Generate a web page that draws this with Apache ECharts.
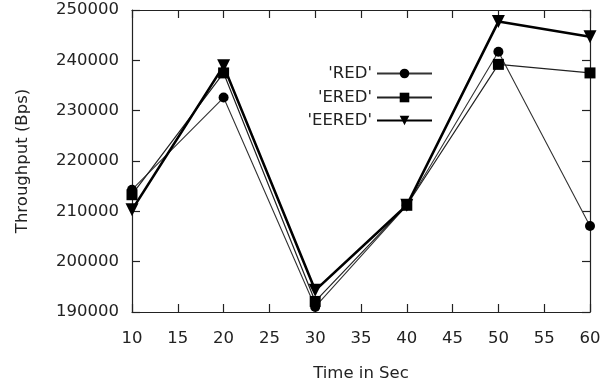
<!DOCTYPE html>
<html>
<head>
<meta charset="utf-8">
<script src="https://cdn.jsdelivr.net/npm/echarts@6/dist/echarts.min.js"></script>
<style>
html,body{margin:0;padding:0;background:#fff;}
#c{width:611px;height:387px;}
</style>
</head>
<body>
<div id="c"></div>
<script>
var times = [10, 20, 30, 40, 50, 60];
var redValues = [214300, 232600, 191000, 211200, 241700, 207100];
var eredValues = [213300, 237500, 192100, 211200, 239200, 237500];
var eeredValues = [210300, 238900, 194300, 211200, 247700, 244700];
var seriesNames = ["'RED'", "'ERED'", "'EERED'"];

function pairs(xs, ys) { return xs.map(function (x, i) { return [x, ys[i]]; }); }

var font = 'DejaVu Sans';
var fs = 16.5;
var txt = '#222';
var chart = echarts.init(document.getElementById('c'), null, {renderer: 'canvas'});

function axisCommon(extra) {
  var o = {
    axisLine: {show: true, onZero: false, lineStyle: {color: '#222', width: 1.2}},
    axisTick: {show: true, inside: true, length: 8, lineStyle: {color: '#222', width: 1.2}},
    splitLine: {show: false}
  };
  for (var k in extra) o[k] = extra[k];
  return o;
}

function legendFor(name, top) {
  return {
    data: [name],
    right: 178,
    top: top,
    align: 'right',
    orient: 'vertical',
    itemWidth: 55,
    itemHeight: 12,
    itemGap: 0,
    padding: 0,
    symbolRotate: 'inherit',
    textStyle: {fontFamily: font, fontSize: fs, color: txt, padding: [0, 0, 0, 0]},
    selectedMode: false
  };
}

chart.setOption({
  animation: false,
  backgroundColor: '#fff',
  grid: {left: 132, right: 21, top: 10, bottom: 74},
  legend: [legendFor(seriesNames[0], 65), legendFor(seriesNames[1], 89), legendFor(seriesNames[2], 112)],
  xAxis: [
    axisCommon({
      type: 'value', min: 10, max: 60, interval: 5, position: 'bottom',
      name: 'Time in Sec', nameLocation: 'middle', nameGap: 53,
      nameTextStyle: {fontFamily: font, fontSize: fs, color: txt},
      axisLabel: {fontFamily: font, fontSize: fs, color: txt, margin: 18}
    }),
    axisCommon({type: 'value', min: 10, max: 60, interval: 5, position: 'top', axisLabel: {show: false}})
  ],
  yAxis: [
    axisCommon({
      type: 'value', min: 190000, max: 250000, interval: 10000, position: 'left',
      name: 'Throughput (Bps)', nameLocation: 'middle', nameGap: 101, nameRotate: 90,
      nameTextStyle: {fontFamily: font, fontSize: fs, color: txt},
      axisLabel: {fontFamily: font, fontSize: fs, color: txt, margin: 13,
        formatter: function (v) { return String(v); }}
    }),
    axisCommon({type: 'value', min: 190000, max: 250000, interval: 10000, position: 'right', axisLabel: {show: false}})
  ],
  series: [
    {
      name: seriesNames[0], type: 'line', data: pairs(times, redValues),
      symbol: 'circle', symbolSize: 10,
      lineStyle: {color: '#333', width: 1.1}, itemStyle: {color: '#000'}
    },
    {
      name: seriesNames[1], type: 'line', data: pairs(times, eredValues),
      symbol: 'rect', symbolSize: 11,
      lineStyle: {color: '#222', width: 1.2}, itemStyle: {color: '#000'}
    },
    {
      name: seriesNames[2], type: 'line', data: pairs(times, eeredValues),
      symbol: 'triangle', symbolSize: 13, symbolRotate: 180,
      lineStyle: {color: '#000', width: 2.6}, itemStyle: {color: '#000'}
    }
  ]
});
</script>
</body>
</html>
